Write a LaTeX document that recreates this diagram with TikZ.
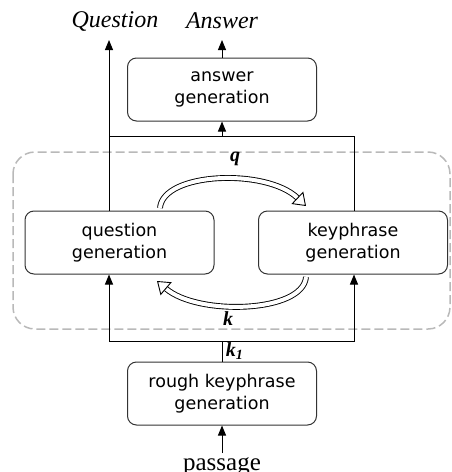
\documentclass[tikz,border=0pt]{standalone}
\usepackage{fontspec}
\setmainfont{Liberation Serif}
\newfontfamily\boxfont{DejaVu Sans}
\usetikzlibrary{arrows.meta,positioning}

\begin{document}
\begin{tikzpicture}[x=1pt, y=-1pt, line width=1pt,
                    >={Triangle[length=10pt,width=8pt]},
                    block/.style={draw=black!80, line width=1pt, rounded corners=9pt,
                                  minimum width=189pt, minimum height=63pt, align=center,
                                  font=\boxfont\fontsize{17.5}{22}\selectfont},
                    outlabel/.style={font=\itshape\fontsize{24}{26}\selectfont},
                    varlabel/.style={font=\bfseries\itshape\fontsize{20}{22}\selectfont},
                    fat/.style={double, double distance=4pt, line width=0.9pt,
                                -{Triangle[open,length=12pt,width=17pt]}}]
    \useasboundingbox (0,0) rectangle (452,472);

   % dashed frame round the loop
   \draw[gray!55, dash pattern=on 9pt off 4pt, line width=1.5pt, rounded corners=22pt]
        (13,152) rectangle (450,329);

   \node[block] (answer_gen) at (222,89.5) {answer\\generation};
   \node[block] (question_gen) at (119.5,242.5) {question\\generation};
   \node[block] (keyphrase_gen) at (353,242.5) {keyphrase\\generation};
   \node[block] (rough_gen) at (222,393.5) {rough keyphrase\\generation};

   \node[outlabel] (question) at (115,21) {Question};
   \node[outlabel] (answer) at (222,21) {Answer};
   \node[anchor=base, font=\fontsize{25}{27}\selectfont] (passage) at (222,470) {passage};

   \coordinate (top_l) at (109,136);
   \coordinate (top_m) at (222,136);
   \coordinate (top_r) at (354,136);
   \coordinate (bot_l) at (109,341);
   \coordinate (bot_m) at (222,341);
   \coordinate (bot_r) at (354,341);
   \coordinate (q_out) at (109,40);
   \coordinate (a_out) at (222,40);
   \coordinate (p_in) at (222,453);

   % Define connections
   \draw (question_gen.north -| top_l) -- (top_l) -- (top_r) -- (keyphrase_gen.north -| top_r);
   \draw[->] (top_l) -- (q_out);
   \draw[->] (top_m) -- (answer_gen.south);
   \draw[->] (answer_gen.north) -- (a_out);
   \draw (rough_gen.north) -- (bot_m) node [varlabel, midway, right] {k\textsubscript{1}};
   \draw[->] (bot_l) -- (bot_r) -- (keyphrase_gen.south -| bot_r);
   \draw[->] (bot_r) -- (bot_l) -- (question_gen.south -| bot_l);
   \draw[->] (p_in) -- (rough_gen.south);

   \draw[fat] (160,208) .. controls (163,172) and (266,168) .. (306,206);
   \draw[fat] (306,277) .. controls (303,313) and (198,316) .. (157,281);
   \node[varlabel] (q_lbl) at (235,159) {q};
   \node[varlabel] (k_lbl) at (228,319) {k};

\end{tikzpicture}
\end{document}
